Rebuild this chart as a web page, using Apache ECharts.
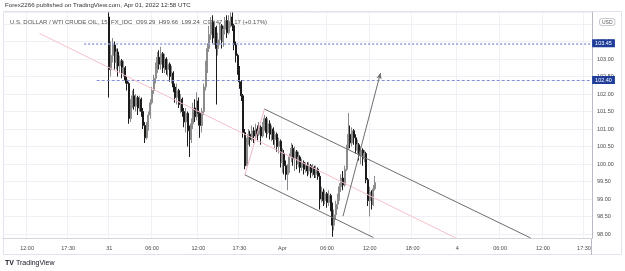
<!DOCTYPE html>
<html lang="en">
<head>
    <meta charset="UTF-8">
    <title>USD / WTI 15m</title>
    <script src="https://cdn.jsdelivr.net/npm/echarts@6/dist/echarts.min.js"></script>
    <style>
        html, body { margin: 0; padding: 0; background: #fff; }
        #main { width: 625px; height: 271px; }
    </style>
</head>
<body>
<div id="main"></div>

<script>
    // time axis: one category per 15 min bar, labels only at these bars
    var barCount = 330;
    var tickIdx = [13, 36, 59, 83, 109, 132, 156, 181, 205, 229, 254, 278, 302, 325];
    var tickText = ['12:00', '17:30', '31', '06:00', '12:00', '17:30', 'Apr', '06:00', '12:00', '18:00', '4', '06:00', '12:00', '17:30'];

    // first candle sits on bar 59 (Mar 31 00:00)
    var firstBar = 59;
    var opens = [
        104.20, 102.70, 103.10, 103.40, 102.90, 103.20, 102.80, 102.95, 102.60, 102.75,
        102.40, 102.30, 101.30, 101.70, 101.95, 101.65, 101.90, 101.60, 101.85, 101.50,
        101.10, 100.75, 101.05, 101.40, 101.75, 102.10, 102.45, 102.70, 103.05, 102.85,
        103.15, 102.75, 103.00, 102.70, 102.85, 102.50, 102.60, 102.20, 101.90, 102.10,
        101.70, 101.85, 101.50, 101.20, 101.45, 100.95, 100.70, 101.15, 101.60, 101.35,
        101.80, 101.45, 101.10, 101.50, 102.20, 102.75, 103.30, 103.70, 104.05, 103.60,
        103.90, 103.30, 103.55, 103.95, 103.50, 103.85, 104.10, 103.75, 104.05, 104.20,
        103.95, 103.40, 103.10, 102.70, 102.35, 101.95, 100.90, 99.95, 100.60, 100.85,
        100.70, 100.95, 100.80, 101.00, 100.85, 101.05, 100.80, 101.10, 101.30, 100.90,
        101.15, 100.85, 101.00, 100.70, 100.85, 100.50, 100.65, 100.05, 100.30, 99.95,
        99.70, 99.85, 100.20, 100.45, 100.15, 100.35, 100.00, 100.20, 99.90, 100.05,
        99.85, 99.95, 99.80, 99.95, 99.75, 99.90, 99.70, 99.85, 99.65, 99.00,
        99.20, 98.95, 99.15, 98.90, 99.10, 98.80, 98.25, 98.55, 98.85, 99.05,
        99.35, 99.60, 99.40, 99.85, 100.45, 100.85, 100.60, 100.95, 100.75, 100.40,
        100.55, 100.25, 100.40, 100.15, 100.30, 99.55, 98.95, 99.20, 98.85, 99.29
    ];
    var highs = [
        104.33, 103.50, 103.60, 103.50, 103.30, 103.30, 103.10, 103.00, 102.95, 102.80,
        102.50, 102.35, 101.85, 102.10, 102.15, 102.00, 101.95, 101.95, 101.90, 101.60,
        101.20, 101.20, 101.50, 101.85, 102.20, 102.55, 102.90, 103.20, 103.25, 103.35,
        103.20, 103.15, 103.05, 103.00, 102.90, 102.80, 102.65, 102.30, 102.30, 102.15,
        102.00, 101.90, 101.60, 101.60, 101.50, 101.10, 101.30, 101.75, 101.85, 102.05,
        101.90, 101.50, 101.60, 102.30, 102.95, 103.45, 103.95, 104.20, 104.25, 104.10,
        103.95, 103.75, 104.05, 104.00, 103.95, 104.20, 104.25, 104.25, 104.33, 104.33,
        104.00, 103.50, 103.15, 102.80, 102.40, 102.00, 101.00, 100.75, 101.00, 100.95,
        101.10, 101.05, 101.15, 101.10, 101.20, 101.10, 101.20, 101.40, 101.35, 101.30,
        101.25, 101.10, 101.05, 100.95, 100.90, 100.75, 100.70, 100.45, 100.40, 100.10,
        100.00, 100.30, 100.60, 100.55, 100.50, 100.40, 100.35, 100.25, 100.15, 100.10,
        100.05, 100.05, 100.05, 100.00, 100.00, 99.95, 99.95, 99.90, 99.75, 99.35,
        99.30, 99.25, 99.20, 99.25, 99.15, 98.90, 98.70, 98.95, 99.15, 99.45,
        99.70, 99.80, 99.95, 100.55, 101.46, 101.10, 101.05, 101.00, 100.85, 100.70,
        100.60, 100.50, 100.45, 100.40, 100.35, 99.60, 99.35, 99.25, 99.40, 99.66
    ];
    var lows = [
        101.90, 102.50, 102.90, 102.70, 102.70, 102.50, 102.60, 102.45, 102.50, 102.30,
        102.10, 101.15, 101.20, 101.60, 101.55, 101.50, 101.40, 101.50, 101.35, 101.00,
        100.60, 100.70, 100.95, 101.30, 101.70, 102.00, 102.30, 102.60, 102.70, 102.70,
        102.60, 102.60, 102.55, 102.50, 102.35, 102.30, 102.05, 101.75, 101.70, 101.60,
        101.45, 101.35, 101.05, 100.90, 100.50, 100.20, 100.60, 101.00, 101.20, 101.25,
        101.10, 100.75, 100.90, 101.40, 102.10, 102.60, 103.20, 103.55, 103.45, 103.40,
        101.70, 103.10, 103.40, 103.30, 103.35, 103.70, 103.60, 103.70, 103.90, 103.80,
        103.25, 102.90, 102.55, 102.15, 101.80, 100.75, 99.85, 99.95, 100.55, 100.50,
        100.65, 100.60, 100.70, 100.65, 100.80, 100.55, 100.75, 100.95, 100.75, 100.85,
        100.70, 100.65, 100.55, 100.45, 100.35, 100.30, 99.90, 99.75, 99.70, 99.55,
        99.25, 99.75, 100.05, 99.95, 99.80, 99.85, 99.90, 99.75, 99.80, 99.70,
        99.75, 99.65, 99.70, 99.60, 99.65, 99.60, 99.60, 99.55, 98.70, 98.90,
        98.80, 98.85, 98.75, 98.80, 98.65, 97.92, 98.10, 98.40, 98.70, 98.95,
        99.20, 99.25, 99.35, 99.80, 100.40, 100.45, 100.50, 100.55, 100.30, 100.30,
        100.10, 100.00, 99.95, 100.05, 99.45, 98.80, 98.50, 98.70, 98.80, 99.24
    ];
    var closes = [
        102.70, 103.10, 103.40, 102.90, 103.20, 102.80, 102.95, 102.60, 102.75, 102.40,
        102.30, 101.30, 101.70, 101.95, 101.65, 101.90, 101.60, 101.85, 101.50, 101.10,
        100.75, 101.05, 101.40, 101.75, 102.10, 102.45, 102.70, 103.05, 102.85, 103.15,
        102.75, 103.00, 102.70, 102.85, 102.50, 102.60, 102.20, 101.90, 102.10, 101.70,
        101.85, 101.50, 101.20, 101.45, 100.95, 100.70, 101.15, 101.60, 101.35, 101.80,
        101.45, 101.10, 101.50, 102.20, 102.75, 103.30, 103.70, 104.05, 103.60, 103.90,
        103.30, 103.55, 103.95, 103.50, 103.85, 104.10, 103.75, 104.05, 104.20, 103.95,
        103.40, 103.10, 102.70, 102.35, 101.95, 100.90, 99.95, 100.60, 100.85, 100.70,
        100.95, 100.80, 101.00, 100.85, 101.05, 100.80, 101.10, 101.30, 100.90, 101.15,
        100.85, 101.00, 100.70, 100.85, 100.50, 100.65, 100.05, 100.30, 99.95, 99.70,
        99.85, 100.20, 100.45, 100.15, 100.35, 100.00, 100.20, 99.90, 100.05, 99.85,
        99.95, 99.80, 99.95, 99.75, 99.90, 99.70, 99.85, 99.65, 99.00, 99.20,
        98.95, 99.15, 98.90, 99.10, 98.80, 98.25, 98.55, 98.85, 99.05, 99.35,
        99.60, 99.40, 99.85, 100.45, 100.85, 100.60, 100.95, 100.75, 100.40, 100.55,
        100.25, 100.40, 100.15, 100.30, 99.55, 98.95, 99.20, 98.85, 99.29, 99.47
    ];

    // drawings, as [bar, price] points
    var hLineUpper = [45.4, 103.45];
    var hLineLower = [52.2, 102.40];
    var pinkLine = [[20.2, 103.73], [252.5, 97.89]];
    var chanUpper = [[146.3, 101.57], [294.5, 97.89]];
    var chanLower = [[135.2, 99.69], [207.0, 97.90]];
    var chanLeft = [[135.2, 99.69], [146.3, 101.57]];
    var arrowLine = [[190.0, 98.51], [210.7, 102.60]];
    var lastPrice = 99.47;
    var countdown = '01:48';

    var font = '"Liberation Sans", Arial, sans-serif';

    var cats = [];
    for (var i = 0; i < barCount; i++) cats.push('');
    tickIdx.forEach(function (t, j) { cats[t] = tickText[j]; });
    function isTick(i) { return tickIdx.indexOf(i) >= 0; }

    var candles = [];
    for (var i = 0; i < firstBar; i++) candles.push('-');
    for (var k = 0; k < closes.length; k++) {
        candles.push([opens[k], closes[k], lows[k], highs[k]]);
    }

    function seg(p, color, width) {
        return [
            {coord: p[0], symbol: 'none', lineStyle: {color: color, width: width, type: 'solid'}},
            {coord: p[1], symbol: 'none'}
        ];
    }

    var lastBar = barCount - 1;
    var blueLbl = {
        show: true, position: 'end', distance: 1, color: '#fff', backgroundColor: '#1f3c99',
        padding: [1, 3, 1, 3], fontSize: 5.5, fontFamily: font
    };

    var myChart = echarts.init(document.getElementById('main'));

    var option = {
        animation: false,
        backgroundColor: '#fff',
        grid: {left: 3, right: 33, top: 12, bottom: 33},
        xAxis: {
            type: 'category',
            data: cats,
            boundaryGap: true,
            axisLine: {show: true, lineStyle: {color: '#d1d4dc'}},
            axisTick: {show: false},
            axisLabel: {
                interval: function (i) { return isTick(i); },
                fontSize: 5.5, color: '#4a4a4a', fontFamily: font, margin: 7
            },
            splitLine: {
                show: true,
                interval: function (i) { return isTick(i); },
                lineStyle: {color: '#eef0f5', width: 1}
            }
        },
        yAxis: {
            type: 'value',
            position: 'right',
            min: 97.886,
            max: 104.343,
            splitNumber: 13,
            scale: true,
            axisLine: {show: true, lineStyle: {color: '#b8bbc4'}},
            axisTick: {show: false},
            axisLabel: {
                showMinLabel: false, showMaxLabel: false,
                formatter: function (v) { return v.toFixed(2); },
                fontSize: 5.5, color: '#4a4a4a', fontFamily: font, margin: 5
            },
            splitLine: {show: true, lineStyle: {color: '#eef0f5', width: 1}}
        },
        series: [{
            type: 'candlestick',
            data: candles,
            barWidth: 1.5,
            itemStyle: {
                color: '#a9a9a9', color0: '#1b1b1b',
                borderColor: '#8c8c8c', borderColor0: '#1b1b1b', borderWidth: 1
            },
            markLine: {
                silent: true,
                symbol: 'none',
                label: {show: false},
                data: [
                    [
                        {coord: hLineUpper, symbol: 'none', lineStyle: {color: '#8d9bdc', width: 1.5, type: [2, 2]}, label: Object.assign({formatter: '103.45'}, blueLbl)},
                        {coord: [lastBar, hLineUpper[1]], symbol: 'none'}
                    ],
                    [
                        {coord: hLineLower, symbol: 'none', lineStyle: {color: '#7f8fdc', width: 1, type: [3, 2]}, label: Object.assign({formatter: '102.40'}, blueLbl)},
                        {coord: [lastBar, hLineLower[1]], symbol: 'none'}
                    ],
                    seg(pinkLine, '#f6c1cc', 1),
                    seg(chanLeft, '#f0b8c4', 1),
                    seg(chanUpper, '#6e6e6e', 1),
                    seg(chanLower, '#6e6e6e', 1),
                    [
                        {coord: arrowLine[0], symbol: 'none', lineStyle: {color: '#6e6e6e', width: 1, type: 'solid'}},
                        {coord: arrowLine[1], symbol: 'arrow', symbolSize: [4, 6]}
                    ],
                    [
                        {
                            coord: [firstBar + closes.length - 1, lastPrice], symbol: 'none',
                            lineStyle: {opacity: 0},
                            label: {
                                show: true, position: 'end', distance: 1,
                                formatter: '{p|' + lastPrice.toFixed(2) + '}\n{t|' + countdown + '}',
                                backgroundColor: '#fff', padding: [8.5, 3, 0, 3],
                                rich: {
                                    p: {fontSize: 5.5, color: '#131722', fontFamily: font, lineHeight: 8.5, fontWeight: 'bold'},
                                    t: {fontSize: 5.5, color: '#131722', fontFamily: font, lineHeight: 8.5}
                                }
                            }
                        },
                        {coord: [lastBar, lastPrice], symbol: 'none'}
                    ]
                ]
            }
        }],
        graphic: [
            {type: 'rect', z: 0, silent: true, shape: {x: 3.5, y: 11.5, width: 618, height: 243},
                style: {fill: null, stroke: '#e0e3eb', lineWidth: 1}},
            {type: 'line', z: 0, silent: true, shape: {x1: 591.5, y1: 238, x2: 591.5, y2: 255},
                style: {stroke: '#b8bbc4', lineWidth: 1}},
            {type: 'rect', z: 10, silent: true, shape: {x: 592, y: 240, width: 29, height: 13},
                style: {fill: '#fff'}},
            {type: 'text', z: 1, silent: true, style: {
                x: 5, y: 2, text: 'Forex2266 published on TradingView.com, Apr 01, 2022 12:58 UTC',
                font: '6.2px ' + font, fill: '#333'}},
            {type: 'text', z: 1, silent: true, style: {
                x: 10, y: 19,
                text: 'U.S. DOLLAR / WTI CRUDE OIL, 15, FX_IDC  {l|O}99.29  {l|H}99.66  {l|L}99.24  {l|C}99.47  +0.17 (+0.17%)',
                font: '6px ' + font, fill: '#555',
                rich: {l: {font: '6px ' + font, fill: '#555'}}}},
            {type: 'rect', z: 10, silent: true, shape: {x: 593, y: 14, width: 28, height: 16},
                style: {fill: '#fff'}},
            {type: 'text', z: 11, silent: true, style: {
                x: 600, y: 19, text: 'USD', font: '5px ' + font, fill: '#555', backgroundColor: '#fff',
                borderColor: '#b8bbc4', borderWidth: 0.8, borderRadius: 2, padding: [1, 2, 0, 2]}},
            {type: 'text', silent: true, style: {
                x: 5, y: 260, text: 'TV', font: 'bold 7px ' + font, fill: '#131722'}},
            {type: 'text', silent: true, style: {
                x: 16, y: 260, text: 'TradingView', font: '7px ' + font, fill: '#131722'}}
        ]
    };

    myChart.setOption(option, true);
</script>
</body>
</html>
